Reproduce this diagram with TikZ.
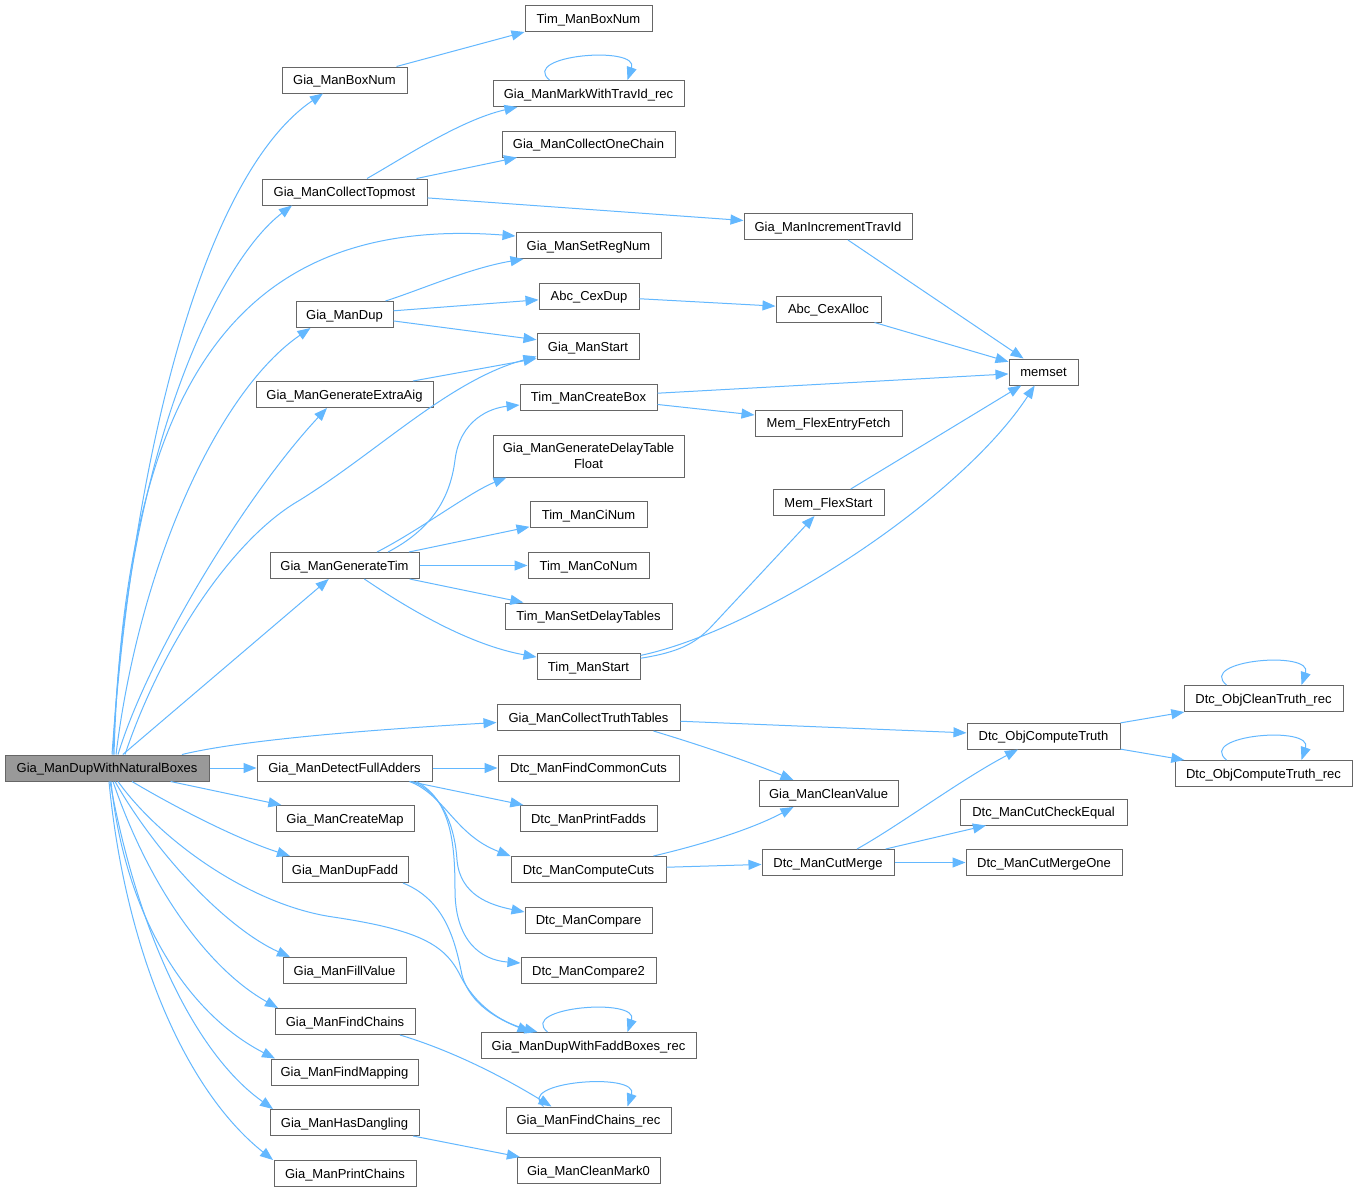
\documentclass[tikz,border=0pt]{standalone}
\usepackage{fontspec}
\setmainfont{Liberation Sans}
\usetikzlibrary{arrows.meta}
\definecolor{edgeblue}{HTML}{63B8FF}
\definecolor{boxgray}{HTML}{666666}
\definecolor{mainfill}{HTML}{999999}
\tikzset{
  basebox/.style={draw=boxgray, fill=white, line width=1pt, rectangle, inner sep=0pt,
    minimum height=26pt, font=\fontsize{13}{16}\selectfont, text=black, align=center},
  box/.style={basebox, text height=9.4pt, text depth=0pt},
  conn/.style={draw=edgeblue, line width=1pt, -{Triangle[length=13pt,width=10pt]}},
}
\begin{document}
\begin{tikzpicture}[x=1pt,y=1pt]
\fill[white] (0,0) rectangle (1358,-1192);
\useasboundingbox (0,0) rectangle (1358,-1192);

% column 0
\node[box, fill=mainfill, minimum width=204] (M) at (107,-768) {Gia\_ManDupWithNaturalBoxes};
% column 1
\node[box, minimum width=125] (BN) at (344.5,-80) {Gia\_ManBoxNum};
\node[box, minimum width=165] (CT) at (344.5,-192) {Gia\_ManCollectTopmost};
\node[box, minimum width=97] (GD) at (344.5,-314.5) {Gia\_ManDup};
\node[box, minimum width=177] (GEA) at (344.5,-394.5) {Gia\_ManGenerateExtraAig};
\node[box, minimum width=149] (GT) at (344.5,-565.5) {Gia\_ManGenerateTim};
\node[box, minimum width=175] (DFA) at (344.5,-768) {Gia\_ManDetectFullAdders};
\node[box, minimum width=138] (CM) at (345,-818.5) {Gia\_ManCreateMap};
\node[box, minimum width=126] (DF) at (345,-869.5) {Gia\_ManDupFadd};
\node[box, minimum width=123] (FV) at (344.5,-970.5) {Gia\_ManFillValue};
\node[box, minimum width=140] (FC) at (345,-1021.5) {Gia\_ManFindChains};
\node[box, minimum width=147] (FM) at (344.5,-1072) {Gia\_ManFindMapping};
\node[box, minimum width=149] (HD) at (344.5,-1122.5) {Gia\_ManHasDangling};
\node[box, minimum width=142] (PC) at (345,-1173.5) {Gia\_ManPrintChains};
% column 2
\node[box, minimum width=127] (TBN) at (588.5,-18.5) {Tim\_ManBoxNum};
\node[box, minimum width=191] (MW) at (588.5,-93.5) {Gia\_ManMarkWithTravId\_rec};
\node[box, minimum width=173] (COC) at (588.5,-144) {Gia\_ManCollectOneChain};
\node[box, minimum width=145] (SR) at (588.5,-245.5) {Gia\_ManSetRegNum};
\node[box, minimum width=100] (CD) at (589,-296) {Abc\_CexDup};
\node[box, minimum width=102] (GS) at (588,-346.5) {Gia\_ManStart};
\node[box, minimum width=137] (CB) at (588.5,-397) {Tim\_ManCreateBox};
\node[basebox, minimum width=191, minimum height=42] (DT) at (588.5,-456) {Gia\_ManGenerateDelayTable\\Float};
\node[box, minimum width=117] (CI) at (588.5,-514.5) {Tim\_ManCiNum};
\node[box, minimum width=121] (CO) at (588.5,-565.5) {Tim\_ManCoNum};
\node[box, minimum width=167] (SDT) at (588.5,-616) {Tim\_ManSetDelayTables};
\node[box, minimum width=103] (TS) at (588.5,-666.5) {Tim\_ManStart};
\node[box, minimum width=183] (CTT) at (588.5,-717.5) {Gia\_ManCollectTruthTables};
\node[box, minimum width=181] (FCC) at (588.5,-768) {Dtc\_ManFindCommonCuts};
\node[box, minimum width=137] (PF) at (588.5,-818.5) {Dtc\_ManPrintFadds};
\node[box, minimum width=155] (CC) at (588.5,-869.5) {Dtc\_ManComputeCuts};
\node[box, minimum width=127] (CMP) at (588.5,-920) {Dtc\_ManCompare};
\node[box, minimum width=135] (CMP2) at (588.5,-970.5) {Dtc\_ManCompare2};
\node[box, minimum width=215] (DWFB) at (588.5,-1045.5) {Gia\_ManDupWithFaddBoxes\_rec};
\node[box, minimum width=165] (FCR) at (588.5,-1120) {Gia\_ManFindChains\_rec};
\node[box, minimum width=143] (CM0) at (588.5,-1170.5) {Gia\_ManCleanMark0};
% column 3
\node[box, minimum width=168] (ITI) at (828,-226.5) {Gia\_ManIncrementTravId};
\node[box, minimum width=105] (CA) at (828.5,-309) {Abc\_CexAlloc};
\node[box, minimum width=147] (FEF) at (828.5,-423) {Mem\_FlexEntryFetch};
\node[box, minimum width=111] (FS) at (828.5,-502.5) {Mem\_FlexStart};
\node[box, minimum width=139] (CV) at (828.5,-793.5) {Gia\_ManCleanValue};
\node[box, minimum width=132] (CMG) at (828,-862.5) {Dtc\_ManCutMerge};
% column 4
\node[box, minimum width=69] (MS) at (1043.5,-372) {memset};
\node[box, minimum width=153] (OCT) at (1043.5,-736) {Dtc\_ObjComputeTruth};
\node[box, minimum width=167] (CCE) at (1043.5,-812) {Dtc\_ManCutCheckEqual};
\node[box, minimum width=156] (CMO) at (1044,-862.5) {Dtc\_ManCutMergeOne};
% column 5
\node[box, minimum width=159] (OCTR) at (1263.5,-698.5) {Dtc\_ObjCleanTruth\_rec};
\node[box, minimum width=177] (OCTRR) at (1263.5,-773.5) {Dtc\_ObjComputeTruth\_rec};

% edges from main node
\draw[conn] ([xshift=5]M.north) .. controls (135,-430) and (210,-170) .. ([xshift=-21.5]BN.south);
\draw[conn] ([xshift=6]M.north) .. controls (125,-450) and (220,-260) .. ([xshift=-52.5]CT.south);
\draw[conn] ([xshift=7]M.north) .. controls (125,-380) and (240,-215) .. ([yshift=9.5]SR.west);
\draw[conn] ([xshift=9]M.north) .. controls (140,-560) and (220,-390) .. ([xshift=-34]GD.south);
\draw[conn] ([xshift=11]M.north) .. controls (150,-650) and (250,-490) .. ([xshift=-17.5]GEA.south);
\draw[conn] ([xshift=18]M.north) .. controls (160,-650) and (230,-540) .. (300,-500)
   .. controls (380,-450) and (450,-380) .. ([yshift=-10]GS.west);
\draw[conn] (M) -- (GT);
\draw[conn] ([xshift=75]M.north) .. controls (250,-738) and (400,-728) .. ([yshift=-5]CTT.west);
\draw[conn] (M) -- (DFA);
\draw[conn] (M) -- (CM);
\draw[conn] ([xshift=25]M.south) .. controls (180,-810) and (240,-840) .. ([xshift=-55]DF.north);
\draw[conn] ([xshift=11]M.south) .. controls (160,-840) and (250,-905) .. (333,-917)
   .. controls (420,-930) and (445,-945) .. (460,-975)
   .. controls (475,-1005) and (500,-1022) .. ([xshift=-51]DWFB.north);
\draw[conn] ([xshift=8]M.south) .. controls (160,-860) and (230,-930) .. ([xshift=-54.5]FV.north);
\draw[conn] ([xshift=6]M.south) .. controls (150,-890) and (210,-970) .. ([xshift=-67]FC.north);
\draw[conn] ([xshift=4]M.south) .. controls (125,-920) and (190,-1015) .. ([xshift=-69.5]FM.north);
\draw[conn] ([xshift=3]M.south) .. controls (135,-920) and (190,-1050) .. ([xshift=-71.5]HD.north);
\draw[conn] ([xshift=2]M.south) .. controls (125,-950) and (185,-1090) .. ([xshift=-72]PC.north);

% second level
\draw[conn] ([xshift=52]BN.north) -- (TBN.south west);
\draw[conn] ([xshift=22.5]CT.north) .. controls (400,-160) and (460,-120) .. ([xshift=-71]MW.south);
\draw[conn] ([xshift=72]CT.north) -- ([xshift=-71.5]COC.south);
\draw[conn] (CT) -- (ITI);
\draw[conn] ([xshift=-39]MW.north) .. controls +(-30,25) and +(12,35) .. ([xshift=39]MW.north);
\draw[conn] (ITI) -- (MS);
\draw[conn] ([xshift=41]GD.north) .. controls (420,-290) and (470,-268) .. ([xshift=-65]SR.south);
\draw[conn] (GD) -- (CD);
\draw[conn] (GD) -- (GS);
\draw[conn] (CD) -- (CA);
\draw[conn] (CA) -- (MS);
\draw[conn] ([xshift=68.5]GEA.north) -- ([yshift=-12]GS.west);
\draw[conn] (CB) -- (MS);
\draw[conn] (CB) -- (FEF);
\draw[conn] (FS) -- (MS);
\draw[conn] (TS) .. controls (680,-652) and (695,-643) .. (710,-628) -- ([xshift=-14]FS.south);
\draw[conn] (TS) .. controls (760,-630) and (960,-500) .. (MS);
\draw[conn] ([xshift=43.5]GT.north) .. controls (430,-530) and (450,-500) .. (455,-460)
   .. controls (460,-420) and (490,-408) .. ([yshift=-8]CB.west);
\draw[conn] ([xshift=32.5]GT.north) .. controls (420,-530) and (470,-492) .. ([xshift=-82]DT.south);
\draw[conn] (GT) -- (CI);
\draw[conn] (GT) -- (CO);
\draw[conn] (GT) -- (SDT);
\draw[conn] (GT) .. controls (410,-610) and (470,-645) .. (TS);

\draw[conn] (CTT) -- (OCT);
\draw[conn] ([xshift=65]CTT.south) .. controls (700,-745) and (750,-762) .. ([xshift=-35]CV.north);
\draw[conn] (OCT) -- (OCTR);
\draw[conn] (OCT) -- (OCTRR);
\draw[conn] ([xshift=-37]OCTR.north) .. controls +(-30,25) and +(12,35) .. ([xshift=38]OCTR.north);
\draw[conn] ([xshift=-37]OCTRR.north) .. controls +(-30,25) and +(12,35) .. ([xshift=38]OCTRR.north);

\draw[conn] (DFA) -- (FCC);
\draw[conn] (DFA) -- (PF);
\draw[conn] ([xshift=65]DFA.south) .. controls (445,-795) and (455,-835) .. (CC.north west);
\draw[conn] ([xshift=68]DFA.south) .. controls (445,-795) and (455,-830) .. (457,-860)
   .. controls (460,-895) and (490,-905) .. ([yshift=8]CMP.west);
\draw[conn] ([xshift=72]DFA.south) .. controls (450,-800) and (455,-840) .. (455,-890)
   .. controls (455,-940) and (480,-960) .. ([yshift=7.5]CMP2.west);
\draw[conn] ([xshift=65]CC.north) .. controls (700,-845) and (750,-830) .. ([xshift=-35]CV.south);
\draw[conn] (CC) -- (CMG);
\draw[conn] ([xshift=29]CMG.north) .. controls (900,-825) and (960,-780) .. ([xshift=-25.5]OCT.south);
\draw[conn] (CMG) -- (CCE);
\draw[conn] (CMG) -- (CMO);

\draw[conn] ([xshift=58]DF.south) .. controls (445,-900) and (455,-940) .. (462,-975)
   .. controls (470,-1005) and (500,-1020) .. ([xshift=-58]DWFB.north);
\draw[conn] ([xshift=-41]DWFB.north) .. controls +(-30,25) and +(12,35) .. ([xshift=39]DWFB.north);
\draw[conn] ([xshift=55]FC.south) .. controls (450,-1050) and (500,-1075) .. ([xshift=-37]FCR.north);
\draw[conn] ([xshift=-45]FCR.north) .. controls +(-30,25) and +(12,35) .. ([xshift=39]FCR.north);
\draw[conn] (HD) -- (CM0);
\end{tikzpicture}
\end{document}
